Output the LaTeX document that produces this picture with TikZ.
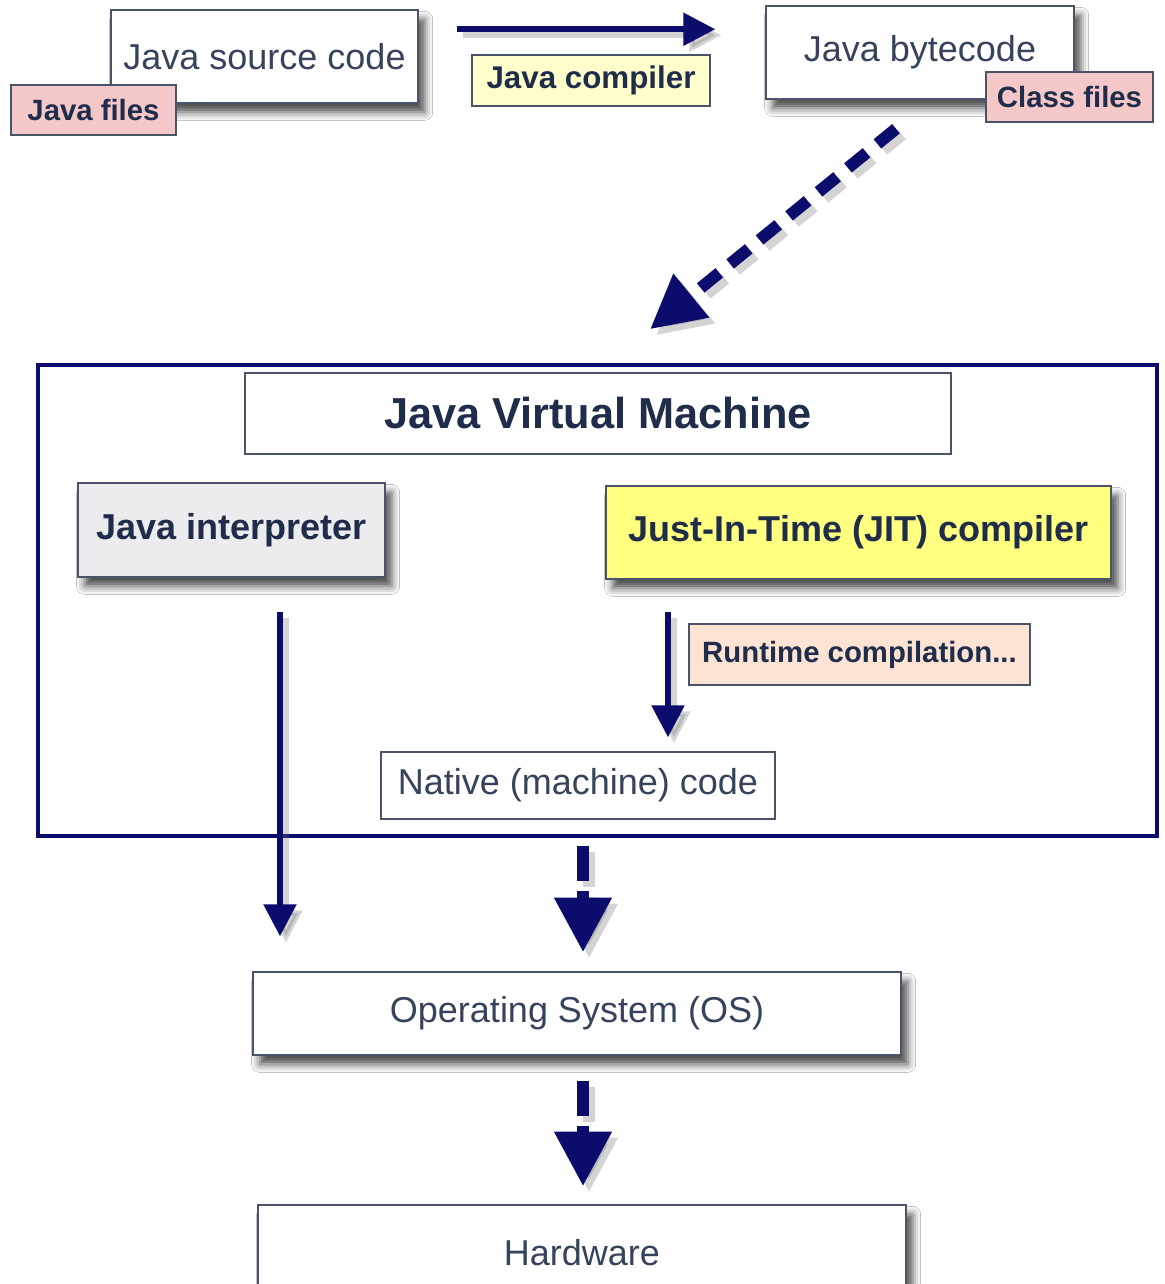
\documentclass[tikz,border=0pt]{standalone}
\usepackage{fontspec}
\setmainfont{Liberation Sans}
\usetikzlibrary{arrows.meta,calc,shadows.blur}
\definecolor{navy}{HTML}{0C0C6C}
\definecolor{txt}{HTML}{36435C}
\definecolor{btxt}{HTML}{1F2C4A}
\definecolor{edge}{HTML}{4A5468}
\definecolor{pinkf}{HTML}{F4C8C8}
\definecolor{lyel}{HTML}{FFFFCC}
\definecolor{jity}{HTML}{FFFF80}
\definecolor{grayf}{HTML}{ECECEF}
\definecolor{peach}{HTML}{FCE3D3}
\begin{document}
\begin{tikzpicture}[x=0.75pt,y=-0.75pt,
  box/.style={draw=edge, line width=1.1pt, fill=white, inner sep=0pt, text=txt,
    font=\fontsize{27}{32}\selectfont},
  shad/.style={blur shadow={shadow xshift=5pt, shadow yshift=-7pt, shadow blur radius=6pt, shadow opacity=70}},
  tag/.style={box, text=btxt, font=\bfseries\fontsize{22}{26}\selectfont},
  bold/.style={text=btxt, font=\bfseries\fontsize{27}{32}\selectfont},
  arr/.style={draw=navy, line width=4.2pt, -{Triangle[length=24pt,width=24pt]}},
  darr/.style={draw=navy, line width=9pt, dash pattern=on 18pt off 10.5pt, -{Triangle[length=40pt,width=40pt]}},
  varr/.style={draw=navy, line width=9pt, dash pattern=on 26.25pt off 7.5pt, -{Triangle[length=41pt,width=41pt]}},
  ashad/.style={draw=black!55, opacity=0.3, transform canvas={shift={(4.5pt,-4.5pt)}}}
]
\useasboundingbox (0,0) rectangle (1164,1284);
\fill[white] (0,0) rectangle (1164,1284);

% top row
\node[box,shad,minimum width=230.25pt,minimum height=69.75pt] (src) at (264.5,56.5) {Java source code};
\node[tag,fill=pinkf,minimum width=123.75pt,minimum height=37.5pt] (jfiles) at (93.5,110) {Java files};
\node[tag,fill=lyel,minimum width=178.5pt,minimum height=38.25pt,font=\bfseries\fontsize{23.5}{28}\selectfont] (jcomp) at (591,80.5) {Java compiler};
\node[box,shad,minimum width=231pt,minimum height=69.75pt] (byte) at (920,52.5) {Java bytecode};
\node[tag,fill=pinkf,minimum width=125.25pt,minimum height=37.5pt] (cfiles) at (1069.5,97) {Class files};

% JVM
\node[box,draw=navy,line width=2.6pt,fill=none,minimum width=839.25pt,minimum height=353.25pt] (jvm) at (597.5,600.5) {};
\node[box,text=btxt,font=\bfseries\fontsize{32.5}{38}\selectfont,minimum width=529.5pt,minimum height=60.75pt] (jvmt) at (598,413.5) {Java Virtual Machine};
\node[box,shad,bold,fill=grayf,minimum width=230.25pt,minimum height=70.5pt] (interp) at (231.5,530) {Java interpreter};
\node[box,shad,bold,fill=jity,minimum width=378.75pt,minimum height=69.75pt] (jit) at (858.5,532.5) {Just-In-Time (JIT) compiler};
\node[tag,fill=peach,minimum width=255.75pt,minimum height=45.75pt] (rt) at (859.5,654.5) {Runtime compilation...};
\node[box,minimum width=295.5pt,minimum height=50.25pt] (native) at (578,785.5) {Native (machine) code};

% bottom
\node[box,shad,minimum width=486pt,minimum height=62.25pt] (os) at (577,1013.5) {Operating System (OS)};
\node[box,shad,minimum width=486pt,minimum height=71.25pt] (hw) at (582,1252.5) {Hardware};

% connector shadows
\draw[arr,ashad] ($(src.north east)+(38,20)$) -- ($(byte.north west)+(-50,24)$);
\draw[darr,ashad] ($(byte.south)+(-24,29)$) -- ($(jvmt.north)+(52,-43)$);
\draw[arr,ashad] ($(interp.south)+(48.5,34)$) -- ($(os.north)+(-297,-35)$);
\draw[arr,ashad] ($(jit.south)+(-190.5,32)$) -- ($(native.north)+(90,-14)$);
\draw[varr,ashad] ($(native.south)+(5,26)$) -- ($(os.north)+(6,-19)$);
\draw[varr,ashad] ($(os.south)+(6,25)$) -- ($(hw.north)+(1,-18)$);

% connectors
\draw[arr] ($(src.north east)+(38,20)$) -- ($(byte.north west)+(-50,24)$);
\draw[darr] ($(byte.south)+(-24,29)$) -- ($(jvmt.north)+(52,-43)$);
\draw[arr] ($(interp.south)+(48.5,34)$) -- ($(os.north)+(-297,-35)$);
\draw[arr] ($(jit.south)+(-190.5,32)$) -- ($(native.north)+(90,-14)$);
\draw[varr] ($(native.south)+(5,26)$) -- ($(os.north)+(6,-19)$);
\draw[varr] ($(os.south)+(6,25)$) -- ($(hw.north)+(1,-18)$);
\end{tikzpicture}
\end{document}
